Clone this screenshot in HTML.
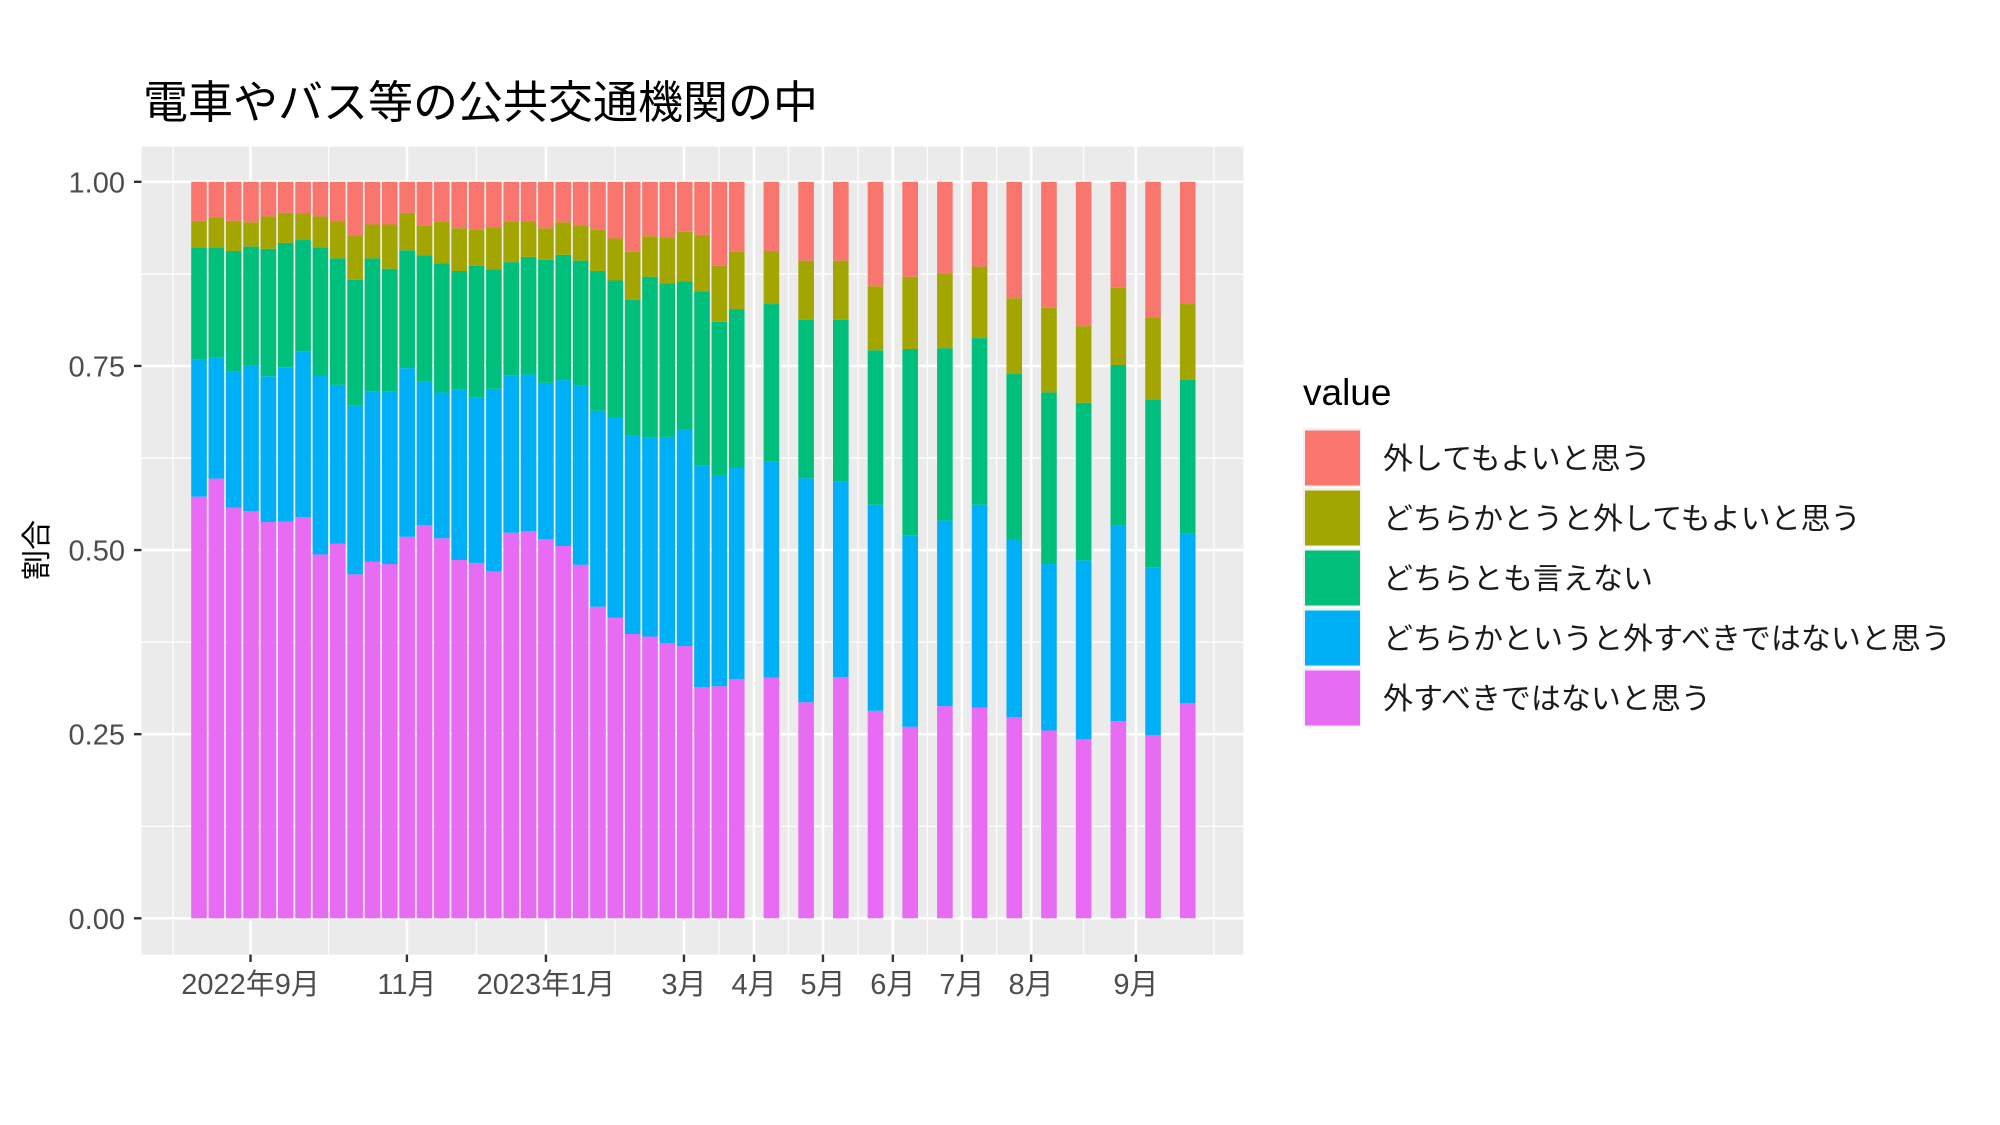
<!DOCTYPE html>
<html><head><meta charset="utf-8"><style>
html,body{margin:0;padding:0;background:#fff;}
svg{display:block;}
text{font-family:"Liberation Sans","Noto Sans CJK JP",sans-serif;}
</style></head><body>
<svg id="chart" width="2000" height="1125" viewBox="0 0 2000 1125" xmlns="http://www.w3.org/2000/svg">
<rect width="2000" height="1125" fill="#fff"/>
<text x="143" y="118" font-size="45" fill="#000">電車やバス等の公共交通機関の中</text>
<rect x="141.5" y="146.5" width="1102" height="808" fill="#ebebeb"/>
<g id="grid"></g>
<g id="bars"></g>
<g id="axes"></g>
<text transform="translate(47,550) rotate(-90)" font-size="30" text-anchor="middle" fill="#000">割合</text>
<g id="legend"></g>
</svg>
<script>
// ----- data -----
// bar dates as day offsets from first survey week
const barDays = [0,7,14,21,28,35,42,49,56,63,70,77,84,91,98,105,112,119,126,133,140,147,154,161,168,175,182,189,196,203,210,217,
  231,245,259,273,287,301,315,329,343,357,371,385,399];
const seriesNames = ["外してもよいと思う","どちらかとうと外してもよいと思う","どちらとも言えない","どちらかというと外すべきではないと思う","外すべきではないと思う"];
const seriesColors = ["#F8766D","#A3A500","#00BF7D","#00B0F6","#E76BF3"];
const notRemove = [.573,.597,.558,.553,.538,.539,.544,.494,.509,.467,.484,.481,.518,.534,.516,.486,.483,.471,.523,.526,.515,.505,.480,.423,.408,.386,.383,.373,.370,.314,.315,.325,
  .327,.293,.327,.282,.260,.288,.286,.273,.255,.243,.268,.249,.292];
const ratherNotRemove = [.186,.164,.185,.197,.198,.210,.225,.243,.216,.229,.231,.234,.229,.195,.198,.231,.225,.248,.213,.213,.212,.225,.244,.266,.272,.269,.271,.280,.295,.301,.287,.287,
  .293,.304,.265,.280,.260,.252,.275,.242,.226,.243,.266,.228,.231];
const neutral = [.153,.150,.164,.162,.173,.169,.151,.174,.172,.171,.181,.167,.160,.171,.175,.161,.179,.162,.154,.160,.167,.170,.169,.190,.186,.185,.218,.208,.201,.236,.208,.216,
  .214,.215,.220,.210,.253,.234,.226,.224,.233,.214,.218,.228,.208];
const ratherRemove = [.036,.041,.041,.033,.044,.041,.036,.042,.050,.060,.046,.060,.051,.041,.057,.058,.049,.057,.055,.048,.043,.044,.047,.056,.057,.065,.055,.063,.067,.077,.076,.078,
  .072,.080,.080,.087,.098,.102,.097,.103,.115,.104,.105,.112,.103];
const okRemove = [.053,.048,.053,.055,.047,.042,.043,.047,.054,.073,.058,.058,.042,.059,.054,.063,.065,.062,.054,.054,.063,.055,.060,.065,.077,.095,.074,.075,.068,.072,.114,.095,
  .094,.107,.107,.142,.129,.124,.115,.158,.171,.196,.144,.184,.166];
const xTickLabels = ["2022年9月","11月","2023年1月","3月","4月","5月","6月","7月","8月","9月"];
const xTickDays = [20.8,83.9,140,195.7,224,251.8,280,307.9,335.8,378.1];
const xEdgeMinorDays = [-10.5,409.6];
const yTicks = [0,0.25,0.5,0.75,1];
const yTickLabels = ["0.00","0.25","0.50","0.75","1.00"];

// ----- scales -----
const NS = "http://www.w3.org/2000/svg";
const PX0 = 141.5, PX1 = 1243.5, PY0 = 146.5, PY1 = 954.5;
const xS = d => 199 + d * 2.478;
const yS = v => 918.3 - v * 736.5;
const barW = 15.6;
function mk(tag, attrs, parent){ const e=document.createElementNS(NS,tag); for(const k in attrs) e.setAttribute(k,attrs[k]); parent.appendChild(e); return e; }

// grid
const grid = document.getElementById('grid');
for (let i=0;i<yTicks.length-1;i++){
  const v=(yTicks[i]+yTicks[i+1])/2;
  const l=mk('line',{x1:PX0,x2:PX1,y1:yS(v),y2:yS(v),stroke:'#fff','stroke-width':1.3},grid);
  
  
}
const minorDays=[xEdgeMinorDays[0]];
for (let i=0;i<xTickDays.length-1;i++) minorDays.push((xTickDays[i]+xTickDays[i+1])/2);
minorDays.push(xEdgeMinorDays[1]);
minorDays.forEach(d=>{
  const l=mk('line',{x1:xS(d),x2:xS(d),y1:PY0,y2:PY1,stroke:'#fff','stroke-width':1.3},grid);
  
  
});
yTicks.forEach(v=>{
  const l=mk('line',{x1:PX0,x2:PX1,y1:yS(v),y2:yS(v),stroke:'#fff','stroke-width':2.6},grid);
  
  
});
xTickDays.forEach(d=>{
  const l=mk('line',{x1:xS(d),x2:xS(d),y1:PY0,y2:PY1,stroke:'#fff','stroke-width':2.6},grid);
  
  
});

// bars (bottom to top: notRemove, ratherNotRemove, neutral, ratherRemove, okRemove)
const stackOrder = [notRemove, ratherNotRemove, neutral, ratherRemove, okRemove];
const stackColors = [seriesColors[4],seriesColors[3],seriesColors[2],seriesColors[1],seriesColors[0]];
const stackNames = ['bar-not-remove','bar-rather-not-remove','bar-neutral','bar-rather-remove','bar-ok-remove'];
const bars = document.getElementById('bars');
barDays.forEach((d,i)=>{
  let cum=0;
  const vals = stackOrder.map(s=>s[i]);
  const total = vals.reduce((a,b)=>a+b,0);
  stackOrder.forEach((s,k)=>{
    const v = s[i]/total;
    const y0=yS(cum), y1=yS(cum+v);
    cum+=v;
    const r=mk('rect',{x:xS(d)-barW/2,y:y1,width:barW,height:Math.max(0,y0-y1),fill:stackColors[k]},bars);
    
    
  });
});

// axes
const axes = document.getElementById('axes');
yTicks.forEach((v,i)=>{
  const t=mk('line',{x1:134,x2:141.5,y1:yS(v),y2:yS(v),stroke:'#333','stroke-width':2.4},axes);
  
  
  const tx=mk('text',{x:125,y:yS(v)+10.5,'font-size':29,'text-anchor':'end',fill:'#4d4d4d'},axes);
  tx.textContent=yTickLabels[i];
  
  
});
xTickDays.forEach((d,i)=>{
  const t=mk('line',{x1:xS(d),x2:xS(d),y1:954.5,y2:962,stroke:'#333','stroke-width':2.4},axes);
  
  
  const tx=mk('text',{x:xS(d),y:994,'font-size':29,'text-anchor':'middle',fill:'#4d4d4d'},axes);
  tx.textContent=xTickLabels[i];
  
  
});

// legend
const lg = document.getElementById('legend');
const lt=mk('text',{x:1303,y:405,'font-size':37,fill:'#000'},lg);
lt.textContent='value';


seriesNames.forEach((n,i)=>{
  const top=428+i*60;
  const bg=mk('rect',{x:1302.7,y:top,width:59,height:59,fill:'#f2f2f2'},lg);
  
  
  const k=mk('rect',{x:1305,y:top+2.5,width:55,height:55,fill:seriesColors[i]},lg);
  
  
  const tx=mk('text',{x:1383,y:top+41,'font-size':30,fill:'#1a1a1a'},lg);
  tx.textContent=n;
  
  
});
</script>
</body></html>
